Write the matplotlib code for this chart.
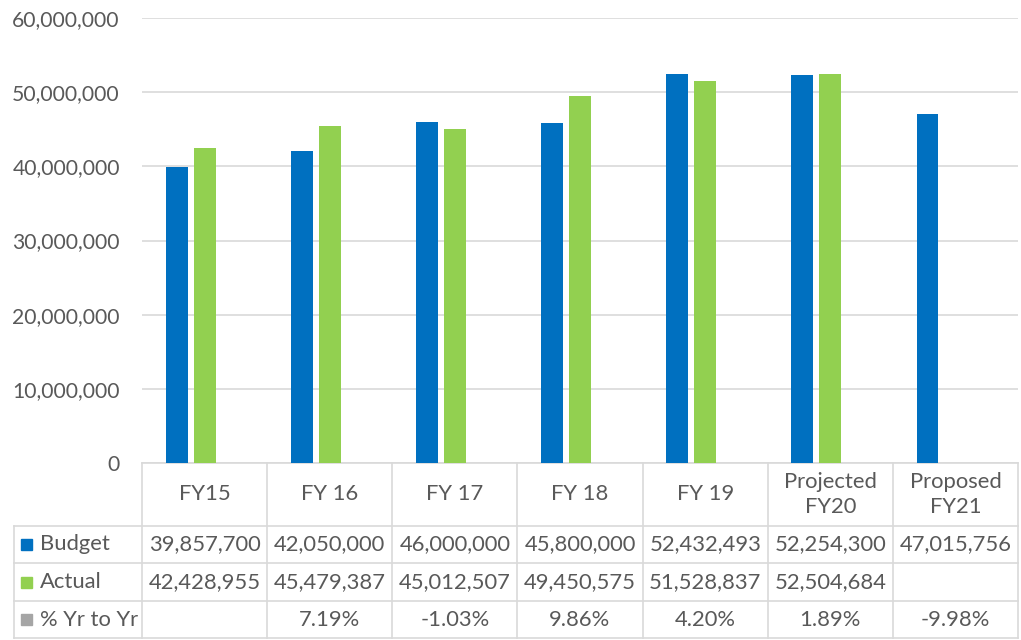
import matplotlib
matplotlib.use("Agg")
import matplotlib.pyplot as plt
from matplotlib.transforms import blended_transform_factory
from matplotlib.patches import Rectangle
import numpy as np

categories = ["FY15", "FY 16", "FY 17", "FY 18", "FY 19", "Projected\nFY20", "Proposed\nFY21"]
budget = [39857700, 42050000, 46000000, 45800000, 52432493, 52254300, 47015756]
actual = [42428955, 45479387, 45012507, 49450575, 51528837, 52504684, None]
pct_yr = [None, 0.0719, -0.0103, 0.0986, 0.0420, 0.0189, -0.0998]

blue = "#0070C0"
green = "#92D050"
grey = "#A5A5A5"
txt = "#595959"
line_c = "#D9D9D9"

plt.rcParams['font.family'] = ['Lato', 'DejaVu Sans']
W, H = 1021, 640
fig = plt.figure(figsize=(W / 100, H / 100), dpi=100)

# plot area in pixels: left 142, right 1018, top 18, bottom 463
ax = fig.add_axes([142 / W, (H - 463) / H, (1018 - 142) / W, (463 - 18) / H])

x = np.arange(len(categories))
bw = 0.175
off = 0.223
ax.bar(x - off, budget, bw, color=blue, zorder=3)
ax.bar(x[:6], actual[:6], bw, color=green, zorder=3)
# third series (percent) is too small to show on this scale
ax.bar(x + off, [0 if v is None else v for v in pct_yr], bw, color=grey, zorder=3)

ax.set_xlim(-0.5, 6.5)
ax.set_ylim(0, 60000000)
ax.set_yticks(np.arange(0, 60000001, 10000000))
ax.yaxis.set_major_formatter(matplotlib.ticker.FuncFormatter(lambda v, p: "{:,.0f}".format(v)))
ax.tick_params(axis='y', length=0, pad=16, labelsize=15.2, labelcolor=txt)
ax.set_xticks([])
ax.grid(axis='y', color=line_c, linewidth=1.2, zorder=0)
for s in ax.spines.values():
    s.set_visible(False)

# ---- data table under the axes ----
tr = blended_transform_factory(ax.transData, ax.transAxes)
ph = 463 - 18
px_per_unit = (1018 - 142) / 7.0


def ya(py):
    # pixel row -> axes fraction
    return (463 - py) / ph


left_x = -0.5 - (142 - 14) / px_per_unit
row_edges = [463, 526, 563, 601, 638]

# horizontal lines
ax.plot([-0.5, 6.5], [ya(463), ya(463)], color=line_c, lw=1.2, transform=tr, clip_on=False)
for py in row_edges[1:]:
    ax.plot([left_x, 6.5], [ya(py), ya(py)], color=line_c, lw=1.2, transform=tr, clip_on=False)
# vertical lines
for b in np.arange(-0.5, 7.0, 1.0):
    ax.plot([b, b], [ya(463), ya(638)], color=line_c, lw=1.2, transform=tr, clip_on=False)
ax.plot([left_x, left_x], [ya(526), ya(638)], color=line_c, lw=1.2, transform=tr, clip_on=False)

fs = 15.8
# header row
for i, c in enumerate(categories):
    ax.text(i, ya((463 + 526) / 2), c, ha='center', va='center', fontsize=fs,
            color=txt, transform=tr, linespacing=1.3)

rows = [
    ("Budget", blue, ["{:,.0f}".format(v) for v in budget]),
    ("Actual", green, ["" if v is None else "{:,.0f}".format(v) for v in actual]),
    ("% Yr to Yr", grey, ["" if v is None else "{:.2f}%".format(v * 100) for v in pct_yr]),
]
for r, (name, col, vals) in enumerate(rows):
    yc = ya((row_edges[r + 1] + row_edges[r + 2]) / 2)
    sq = 11 / px_per_unit
    ax.add_patch(Rectangle((left_x + 7 / px_per_unit, yc - 5.5 / ph), sq, 11 / ph,
                           color=col, transform=tr, clip_on=False))
    ax.text(left_x + 26 / px_per_unit, yc, name, ha='left', va='center', fontsize=fs,
            color=txt, transform=tr)
    for i, v in enumerate(vals):
        ax.text(i, yc, v, ha='center', va='center', fontsize=fs, color=txt, transform=tr)

fig.savefig("out.png", dpi=100)
